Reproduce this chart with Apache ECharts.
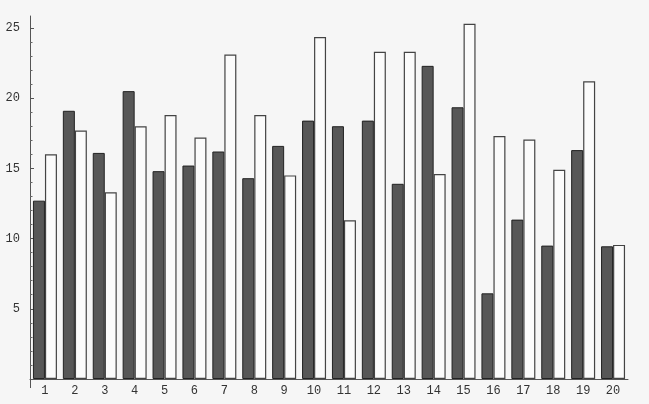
<!DOCTYPE html>
<html>
<head>
<meta charset="utf-8">
<script src="https://cdn.jsdelivr.net/npm/echarts@6/dist/echarts.min.js"></script>
<style>
html,body{margin:0;padding:0;background:#f6f6f6;}
#c{width:649px;height:404px;}
</style>
</head>
<body>
<div id="c"></div>
<script>
const categories = ['1','2','3','4','5','6','7','8','9','10','11','12','13','14','15','16','17','18','19','20'];
const darkValues = [12.7, 19.1, 16.1, 20.5, 14.8, 15.2, 16.2, 14.3, 16.6, 18.4, 18.0, 18.4, 13.9, 22.3, 19.35, 6.1, 11.35, 9.5, 16.3, 9.45];
const whiteValues = [16.0, 17.7, 13.3, 18.0, 18.8, 17.2, 23.1, 18.8, 14.5, 24.35, 11.3, 23.3, 23.3, 14.6, 25.3, 17.3, 17.05, 14.9, 21.2, 9.55];
const yMajorTicks = [5, 10, 15, 20, 25];
const yMinorTicks = [1,2,3,4,6,7,8,9,11,12,13,14,16,17,18,19,21,22,23,24];
const yMax = 25.85;

const font = '"Liberation Mono", "DejaVu Sans Mono", monospace';
const chart = echarts.init(document.getElementById('c'));
chart.setOption({
  backgroundColor: '#f6f6f6',
  animation: false,
  grid: { left: 30, right: 21, top: 16, bottom: 25 },
  xAxis: {
    type: 'category',
    data: categories,
    axisLine: { lineStyle: { color: '#555', width: 1 } },
    axisTick: { show: false },
    axisLabel: { color: '#333', fontFamily: font, fontSize: 12, margin: 6 }
  },
  yAxis: [{
    type: 'value',
    min: 0, max: yMax, interval: 5,
    splitLine: { show: false },
    axisLine: { show: true, lineStyle: { color: '#555', width: 1 } },
    axisTick: { show: true, inside: true, length: 4, customValues: yMajorTicks, lineStyle: { color: '#555' } },
    axisLabel: { customValues: yMajorTicks, color: '#333', fontFamily: font, fontSize: 12, margin: 10 }
  }, {
    type: 'value',
    position: 'left',
    min: 0, max: yMax, interval: 5,
    splitLine: { show: false },
    axisLine: { show: false },
    axisTick: { show: true, inside: true, length: 2.5, customValues: yMinorTicks, lineStyle: { color: '#666' } },
    axisLabel: { show: false }
  }],
  series: [{
    type: 'bar',
    data: darkValues,
    barWidth: 12,
    barGap: '0%',
    itemStyle: { color: '#575757', borderColor: '#222', borderWidth: 1 }
  }, {
    type: 'bar',
    data: whiteValues,
    barWidth: 12,
    barGap: '0%',
    itemStyle: { color: '#fbfbfb', borderColor: '#444', borderWidth: 1.2 }
  }]
});
// small extension of the y axis line below the x axis, as in the reference
const y0 = chart.convertToPixel({ yAxisIndex: 0 }, 0);
const gridRect = chart.getModel().getComponent('grid').coordinateSystem.getRect();
chart.setOption({
  graphic: [{
    type: 'line',
    shape: { x1: gridRect.x + 0.5, y1: y0, x2: gridRect.x + 0.5, y2: y0 + 9 },
    style: { stroke: '#555', lineWidth: 1 },
    silent: true
  }]
});
</script>
</body>
</html>
